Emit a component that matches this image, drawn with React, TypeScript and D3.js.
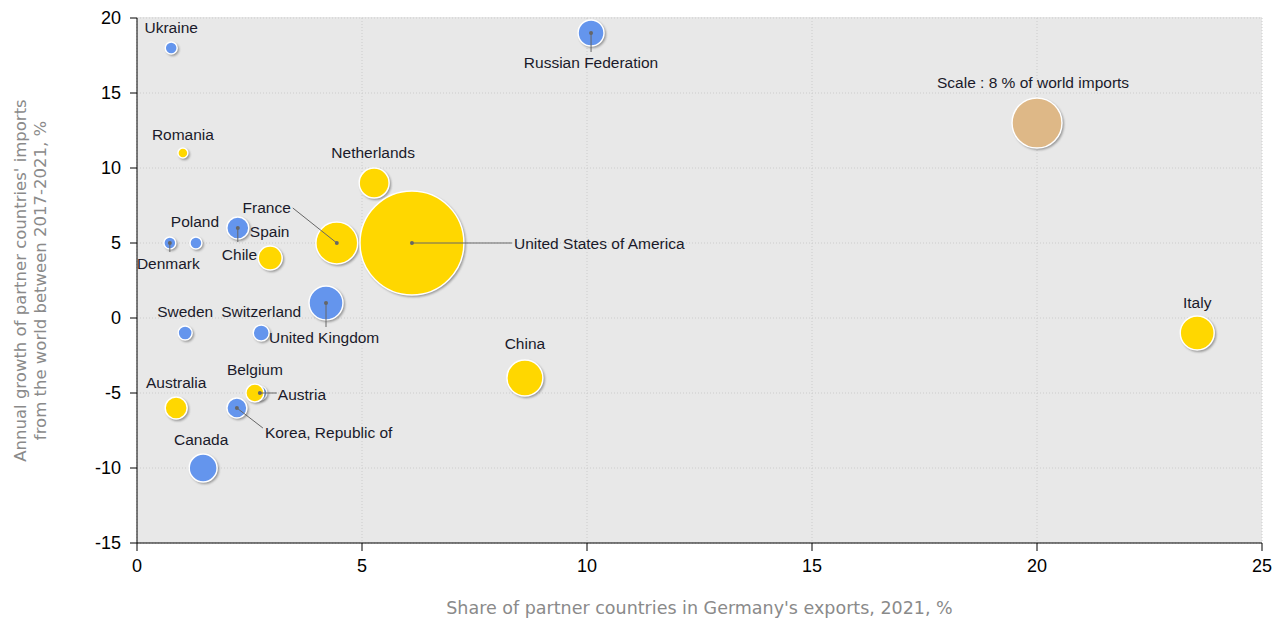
import React from 'react'
import * as d3 from 'd3'

// partner countries: x = share of Germany's exports (%), y = annual import growth (%), size = share of world imports (%)
const countries = ['Ukraine', 'Romania', 'Denmark', 'Poland', 'Sweden', 'Switzerland', 'Austria', 'Belgium', 'Korea, Republic of', 'Australia', 'Canada', 'Spain', 'Chile', 'United Kingdom', 'Russian Federation', 'Netherlands', 'China', 'Italy', 'France', 'United States of America']
const exportShare = [0.76, 1.02, 0.73, 1.31, 1.07, 2.76, 2.73, 2.62, 2.22, 0.87, 1.47, 2.24, 2.96, 4.2, 10.09, 5.27, 8.62, 23.56, 4.44, 6.11]
const importGrowth = [18, 11, 5, 5, -1, -1, -5, -5, -6, -6, -10, 6, 4, 1, 19, 9, -4, -1, 5, 5]
const worldShare = [0.46, 0.32, 0.46, 0.46, 0.63, 0.82, 0.63, 1.04, 1.28, 1.55, 2.5, 1.55, 1.84, 3.7, 2.16, 2.88, 4.15, 3.7, 5.6, 34.6]
const group = ['b', 'y', 'b', 'b', 'b', 'b', 'b', 'y', 'b', 'y', 'b', 'b', 'y', 'b', 'b', 'y', 'y', 'y', 'y', 'y']

const xTicks = [0, 5, 10, 15, 20, 25]
const yTicks = [-15, -10, -5, 0, 5, 10, 15, 20]
const scaleRef = { x: 20, y: 13, size: 8, label: 'Scale : 8 % of world imports' }

// label placement: dx/dy offset from the bubble centre, anchor, optional leader end
type Lab = { dx: number; dy: number; anchor: string; lx?: number; ly?: number }
const labels: Record<string, Lab> = {
  'Ukraine': { dx: 0, dy: -15, anchor: 'middle' },
  'Romania': { dx: 0, dy: -13, anchor: 'middle' },
  'Denmark': { dx: -1.5, dy: 26, anchor: 'middle', lx: 0, ly: 9 },
  'Poland': { dx: -1, dy: -16, anchor: 'middle' },
  'Sweden': { dx: 0, dy: -16, anchor: 'middle' },
  'Switzerland': { dx: 0, dy: -16, anchor: 'middle' },
  'Austria': { dx: 18, dy: 7, anchor: 'start', lx: 17, ly: 0 },
  'Belgium': { dx: 0, dy: -18, anchor: 'middle' },
  'Korea, Republic of': { dx: 28, dy: 30, anchor: 'start', lx: 26, ly: 20 },
  'Australia': { dx: 0, dy: -20, anchor: 'middle' },
  'Canada': { dx: -2, dy: -23, anchor: 'middle' },
  'Spain': { dx: 12, dy: 9, anchor: 'start', lx: 0, ly: 14 },
  'Chile': { dx: -13, dy: 2, anchor: 'end' },
  'United Kingdom': { dx: -57, dy: 40, anchor: 'start', lx: 0, ly: 24 },
  'Russian Federation': { dx: 0, dy: 35, anchor: 'middle', lx: 0, ly: 19 },
  'Netherlands': { dx: -1, dy: -25, anchor: 'middle' },
  'China': { dx: 0, dy: -29, anchor: 'middle' },
  'Italy': { dx: 0, dy: -25, anchor: 'middle' },
  'France': { dx: -46, dy: -30, anchor: 'end', lx: -44, ly: -35 },
  'United States of America': { dx: 102, dy: 6, anchor: 'start', lx: 100, ly: 0 },
}

const colors: Record<string, string> = { b: '#6495ed', y: '#ffd700' }

const W = 1286
const H = 622
const M = { left: 137, right: 24, top: 18, bottom: 79 }

export default function App() {
  const x = d3.scaleLinear().domain([0, 25]).range([M.left, W - M.right])
  const y = d3.scaleLinear().domain([-15, 20]).range([H - M.bottom, M.top])
  const r = d3.scaleSqrt().domain([0, 8]).range([0, 25])

  const data = countries.map((name, i) => ({
    name, x: exportShare[i], y: importGrowth[i], size: worldShare[i], g: group[i],
  }))

  const labelFont = { fontFamily: '"Liberation Sans", Arial, sans-serif', fontSize: 15.5, fill: '#1a1a2a' }
  const x0 = x(0), x1 = x(25), y0 = y(-15), y1 = y(20)

  return (
    <svg width={W} height={H} style={{ position: 'absolute', left: 0, top: 0 }}>
      <defs>
        <filter id="sh" x="-50%" y="-50%" width="200%" height="200%">
          <feGaussianBlur stdDeviation="1.2" />
        </filter>
      </defs>
      <rect x={x0} y={y1 - 1} width={x1 - x0} height={y0 - y1 + 1} fill="#e8e8e8" />
      {xTicks.map((t) => (
        <line key={'gx' + t} x1={x(t)} x2={x(t)} y1={y1} y2={y0} stroke="#cccccc" strokeDasharray="1,2" />
      ))}
      {yTicks.map((t) => (
        <line key={'gy' + t} x1={x0} x2={x1} y1={y(t)} y2={y(t)} stroke="#cccccc" strokeDasharray="1,2" />
      ))}

      {data.map((d) => (
        <g key={d.name}>
          <circle cx={x(d.x) + 1.5} cy={y(d.y) + 1.5} r={r(d.size) + 0.5} fill="#555" opacity={0.55} filter="url(#sh)" />
          <circle cx={x(d.x)} cy={y(d.y)} r={r(d.size)} fill={colors[d.g]} stroke="#fff" strokeWidth={1.5} />
        </g>
      ))}
      <circle cx={x(scaleRef.x) + 1.5} cy={y(scaleRef.y) + 1.5} r={r(scaleRef.size) + 0.5} fill="#555" opacity={0.55} filter="url(#sh)" />
      <circle cx={x(scaleRef.x)} cy={y(scaleRef.y)} r={r(scaleRef.size)} fill="#deb887" stroke="#fff" strokeWidth={1.5} />
      <text x={x(scaleRef.x) - 100} y={y(scaleRef.y) - 35} {...labelFont}>{scaleRef.label}</text>

      {data.map((d) => {
        const l = labels[d.name]
        const cx = x(d.x), cy = y(d.y)
        return (
          <g key={'l' + d.name}>
            {l.lx !== undefined && (
              <>
                <line x1={cx} y1={cy} x2={cx + l.lx} y2={cy + (l.ly || 0)} stroke="#666" strokeWidth={1} />
                <circle cx={cx} cy={cy} r={2} fill="#666" />
              </>
            )}
            <text x={cx + l.dx} y={cy + l.dy} textAnchor={l.anchor} {...labelFont}>{d.name}</text>
          </g>
        )
      })}

      {/* axes */}
      <line x1={x0} x2={x0} y1={y1} y2={y0} stroke="#000" />
      <line x1={x0} x2={x1} y1={y0} y2={y0} stroke="#000" />
      {yTicks.map((t) => (
        <g key={'ty' + t}>
          <line x1={x0 - 7} x2={x0} y1={y(t)} y2={y(t)} stroke="#000" />
          <text x={x0 - 16} y={y(t) + 6} textAnchor="end" fontFamily='"Liberation Sans", Arial, sans-serif' fontSize={18} fill="#000">{t}</text>
        </g>
      ))}
      {xTicks.map((t) => (
        <g key={'tx' + t}>
          <line x1={x(t)} x2={x(t)} y1={y0} y2={y0 + 8} stroke="#000" />
          <text x={x(t)} y={y0 + 29} textAnchor="middle" fontFamily='"Liberation Sans", Arial, sans-serif' fontSize={18} fill="#000">{t}</text>
        </g>
      ))}

      <text x={(x0 + x1) / 2} y={614} textAnchor="middle" fontFamily='"DejaVu Sans", Verdana, sans-serif' fontSize={17.5} fill="#8a8a8a">
        Share of partner countries in Germany's exports, 2021, %
      </text>
      <g transform={`translate(0, ${(y0 + y1) / 2}) rotate(-90)`} fontFamily='"DejaVu Sans", Verdana, sans-serif' fontSize={16.5} fill="#8a8a8a" textAnchor="middle">
        <text x={0} y={26}>Annual growth of partner countries' imports</text>
        <text x={0} y={46}>from the world between 2017-2021, %</text>
      </g>
    </svg>
  )
}
